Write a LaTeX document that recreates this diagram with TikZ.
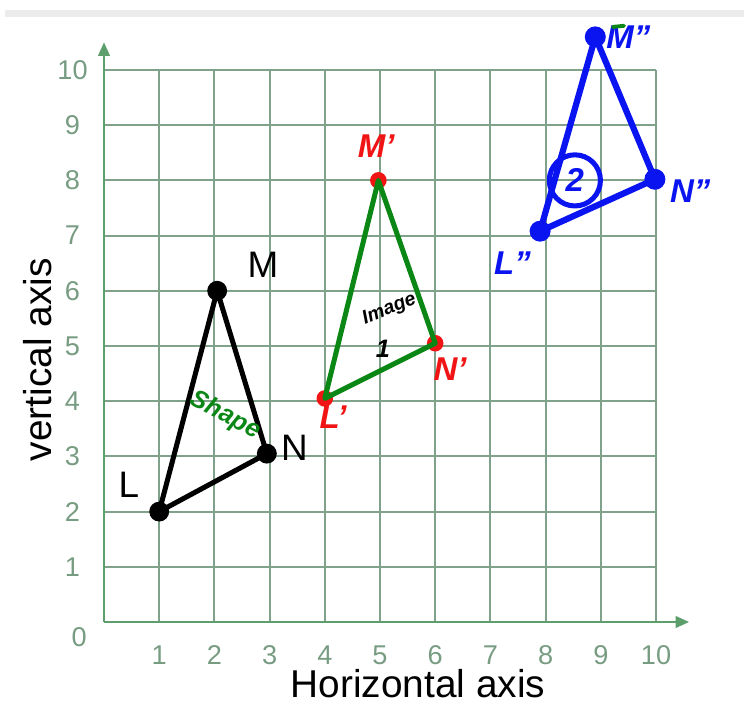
\documentclass[tikz,border=0pt]{standalone}
\usepackage{fontspec}
\setmainfont{Liberation Sans}
\usetikzlibrary{arrows.meta}
\definecolor{gridgreen}{RGB}{128, 162, 138}
\definecolor{axisgreen}{RGB}{92, 158, 108}
\definecolor{ticktxt}{RGB}{120, 156, 130}
\definecolor{penred}{RGB}{240, 20, 20}
\definecolor{pengreen}{RGB}{10, 135, 20}
\definecolor{penblue}{RGB}{10, 20, 240}

\begin{document}
\begin{tikzpicture}[
  gridline/.style={gridgreen, line width=1.1pt},
  axisline/.style={axisgreen, line width=1.2pt, -{Triangle[length=7pt, width=6pt]}},
  tick/.style={font=\fontsize{14}{16}\selectfont, text=ticktxt},
  axislabel/.style={font=\fontsize{20}{24}\selectfont, inner sep=0pt},
  vlabel/.style={font=\fontsize{19}{22}\selectfont},
  dot/.style={circle, inner sep=0pt, minimum size=#1},
  pen/.style={font=\fontsize{17}{19}\selectfont\bfseries\itshape},
]
  \useasboundingbox (-1.884, -1.449) rectangle (11.594, 11.268);
  \fill[gray!15] (-1.79, 10.96) rectangle (11.594, 11.087);

  % grid and axes
  \foreach \i in {1,...,10} {
    \draw[gridline] (\i, 0) -- (\i, 10);
    \draw[gridline] (0, \i) -- (10, \i);
  }
  \coordinate (origin) at (0, 0);
  \coordinate (xend) at (10.6, 0);
  \coordinate (yend) at (0, 10.5);
  \draw[axisline] (origin) -- (xend);
  \draw[axisline] (origin) -- (yend);

  \foreach \i in {1,...,10} {
    \node[tick] (xt\i) at (\i, -0.6) {\i};
    \node[tick] (yt\i) at (-0.57, \i) {\i};
  }
  \node[tick] (zero) at (-0.45, -0.27) {0};

  \node[axislabel] (hlabel) at (5.69, -1.12) {Horizontal axis};
  \node[axislabel, rotate=90] (vlabel) at (-1.2, 4.75) {vertical axis};

  % shape LMN
  \node[dot=0.36cm, fill=black] (L) at (1, 2) {};
  \node[dot=0.36cm, fill=black] (M) at (2.05, 6) {};
  \node[dot=0.36cm, fill=black] (N) at (2.95, 3.05) {};
  \draw[line width=2.6pt] (L.center) -- (M.center) -- (N.center) -- cycle;
  \node[vlabel] (Llab) at (0.45, 2.48) {L};
  \node[vlabel] (Mlab) at (2.88, 6.47) {M};
  \node[vlabel] (Nlab) at (3.45, 3.15) {N};
  \node[font=\fontsize{13}{15}\selectfont\bfseries\itshape, text=pengreen, rotate=-28, inner sep=0pt] (shape) at (2.2, 3.74) {Shape};

  % image 1
  \node[dot=0.3cm, fill=penred] (L1) at (4, 4.05) {};
  \node[dot=0.3cm, fill=penred] (M1) at (4.97, 8) {};
  \node[dot=0.3cm, fill=penred] (N1) at (6, 5.05) {};
  \draw[pengreen, line width=2.6pt, line join=round] (L1.center) -- (M1.center) -- (N1.center) -- cycle;
  \node[pen, text=penred] (L1lab) at (4.15, 3.72) {L'};
  \node[pen, text=penred] (M1lab) at (4.93, 8.62) {M'};
  \node[pen, text=penred] (N1lab) at (6.27, 4.58) {N'};
  \node[font=\fontsize{10}{12}\selectfont\bfseries\itshape, rotate=22, inner sep=0pt] (img) at (5.17, 5.66) {Image};
  \node[font=\fontsize{13}{14}\selectfont\bfseries\itshape, inner sep=0pt] (one) at (5.05, 4.95) {1};

  % image 2
  \node[dot=0.38cm, fill=penblue] (L2) at (7.9, 7.08) {};
  \node[dot=0.38cm, fill=penblue] (M2) at (8.9, 10.6) {};
  \node[dot=0.38cm, fill=penblue] (N2) at (9.98, 8.02) {};
  \draw[penblue, line width=3.2pt, line join=round] (L2.center) -- (M2.center) -- (N2.center) -- cycle;
  \node[pen, text=penblue] (L2lab) at (7.4, 6.5) {L''};
  \node[pen, text=penblue] (M2lab) at (9.5, 10.6) {M''};
  \node[pen, text=penblue] (N2lab) at (10.62, 7.8) {N''};
  \node[pen, text=penblue, draw=penblue, circle, line width=2.6pt, inner sep=4pt] (two) at (8.53, 8.0) {2};
  \draw[pengreen, line width=2pt, line cap=round] (9.22, 10.78) -- (9.42, 10.8);
\end{tikzpicture}
\end{document}
